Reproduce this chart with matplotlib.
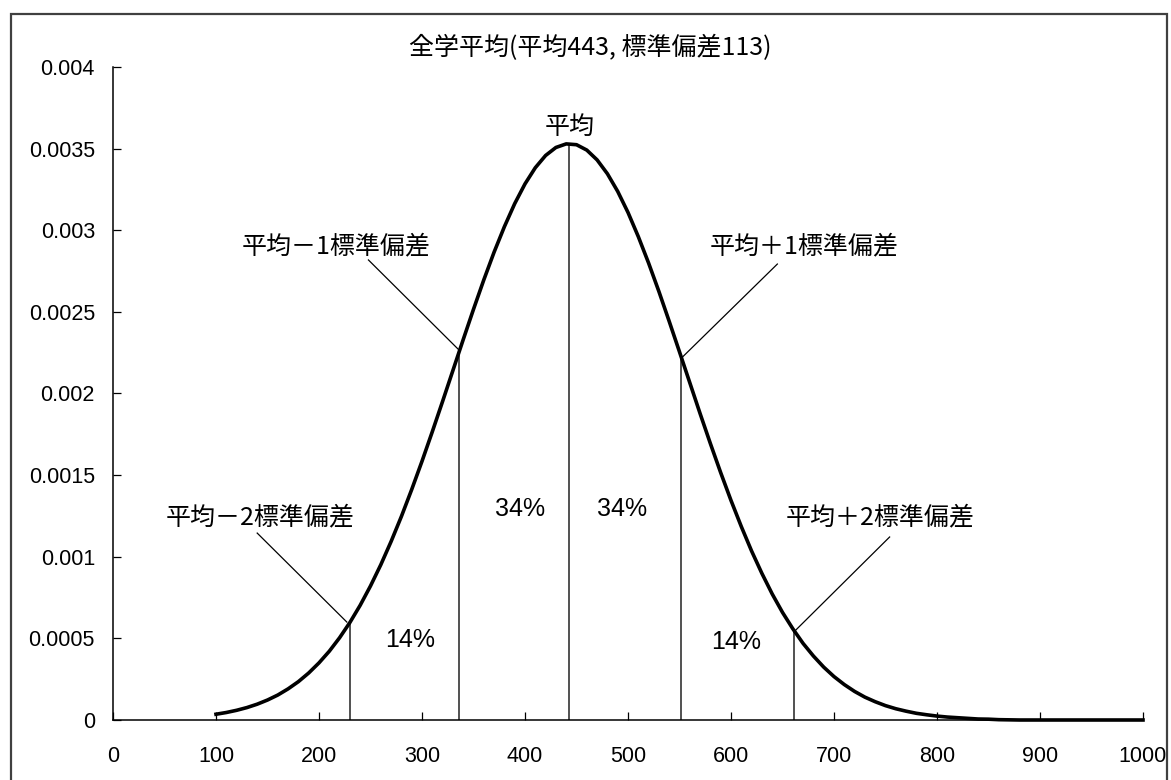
import matplotlib
matplotlib.use("Agg")
import matplotlib.pyplot as plt
from matplotlib.patches import Rectangle

JP = ["Noto Sans CJK JP", "DejaVu Sans"]
LAT = ["Liberation Sans", "DejaVu Sans"]

# curve (score, density)
score = [100, 110, 120, 130, 140, 150, 160, 170, 180, 190, 200, 210, 220, 230,
         240, 250, 260, 270, 280, 290, 300, 310, 320, 330, 340, 350, 360, 370,
         380, 390, 400, 410, 420, 430, 440, 450, 460, 470, 480, 490, 500, 510,
         520, 530, 540, 550, 560, 570, 580, 590, 600, 610, 620, 630, 640, 650,
         660, 670, 680, 690, 700, 710, 720, 730, 740, 750, 760, 770, 780, 790,
         800, 810, 820, 830, 840, 850, 860, 880, 900, 950, 1000]
density = [0.0000353, 0.0000459, 0.0000594, 0.0000761, 0.0000969, 0.0001224,
           0.000153, 0.0001908, 0.000235, 0.000288, 0.000350, 0.0004213,
           0.000504, 0.0005974, 0.000703, 0.0008211, 0.000951, 0.0010935,
           0.001247, 0.0014118, 0.001585, 0.001766, 0.001952, 0.002141,
           0.002330, 0.002516, 0.002696, 0.002866, 0.003022, 0.003163,
           0.003284, 0.003383, 0.003458, 0.003507, 0.003529, 0.003524,
           0.003491, 0.003431, 0.003346, 0.003238, 0.003109, 0.002961,
           0.002799, 0.002625, 0.002442, 0.002255, 0.002066, 0.001877,
           0.001693, 0.001515, 0.001345, 0.001185, 0.001035, 0.000898,
           0.000772, 0.000659, 0.000559, 0.000469, 0.000392, 0.000324,
           0.000266, 0.000217, 0.000175, 0.000140, 0.000112, 0.000088,
           0.000069, 0.000054, 0.000041, 0.000032, 0.000024, 0.000018,
           0.000014, 0.000010, 0.000006, 0.000005, 0.000002, 0.0, 0.0, 0.0, 0.0]

# vertical marker lines (mean, +/-1, +/-2 SD as drawn)
mark_x = [230, 336, 443, 551, 661]
mark_top = [0.000595, 0.002255, 0.003531, 0.002235, 0.000550]

pct_labels = ["14%", "34%", "34%", "14%"]
pct_x = [288, 395, 494, 605]
pct_y = [0.00049, 0.00129, 0.00129, 0.00048]

sd_labels = ["平均－2標準偏差", "平均－1標準偏差", "平均＋1標準偏差", "平均＋2標準偏差"]
sd_text_xy = [(143, 0.00124), (217, 0.00290), (671, 0.00290), (745, 0.00124)]
sd_leader_from = [(140, 0.001145), (248, 0.002818), (645, 0.002793), (754, 0.001121)]
sd_leader_to = [(227, 0.000600), (336, 0.002266), (553, 0.002224), (661, 0.000539)]

title = "全学平均(平均443, 標準偏差113)"

fig = plt.figure(figsize=(11.71, 7.80), dpi=100)
fig.patches.append(Rectangle((11 / 1171, -0.05), 1156 / 1171, 1.05 - 14 / 780,
                             transform=fig.transFigure, fill=False,
                             edgecolor="#404040", linewidth=1.6))
ax = fig.add_axes([113 / 1171, 60 / 780, 1030 / 1171, 653 / 780])

ax.plot(score, density, color="black", linewidth=2.6, solid_joinstyle="round",
        clip_on=False, zorder=3)
ax.vlines(mark_x, 0, mark_top, color="#222222", linewidth=1.1, zorder=2)

for (x0, y0), (x1, y1) in zip(sd_leader_from, sd_leader_to):
    ax.plot([x0, x1], [y0, y1], color="black", linewidth=0.9)
for lab, (tx, ty) in zip(sd_labels, sd_text_xy):
    ax.text(tx, ty, lab, family=JP, fontsize=18, ha="center", va="center")
for lab, tx, ty in zip(pct_labels, pct_x, pct_y):
    ax.text(tx, ty, lab, family=LAT, fontsize=18, ha="center", va="center")
ax.text(443, 0.00363, "平均", family=JP, fontsize=18, ha="center", va="center")
fig.text(590 / 1171, 1 - 48 / 780, title, family=JP, fontsize=18,
         ha="center", va="center")

ax.set_xlim(0, 1000)
ax.set_ylim(0, 0.004)
ax.set_xticks(range(0, 1001, 100))
ax.set_yticks([i * 0.0005 for i in range(9)])
ax.set_yticklabels(["0", "0.0005", "0.001", "0.0015", "0.002", "0.0025",
                    "0.003", "0.0035", "0.004"])
for lab in ax.get_xticklabels() + ax.get_yticklabels():
    lab.set_family(LAT)
ax.tick_params(axis="x", direction="in", length=6, width=0.9, labelsize=15.5, pad=19)
ax.tick_params(axis="y", direction="in", length=6, width=0.9, labelsize=15.5, pad=13)
for side in ("top", "right"):
    ax.spines[side].set_visible(False)
for side in ("left", "bottom"):
    ax.spines[side].set_linewidth(1.1)

fig.savefig("out.png", dpi=100)
